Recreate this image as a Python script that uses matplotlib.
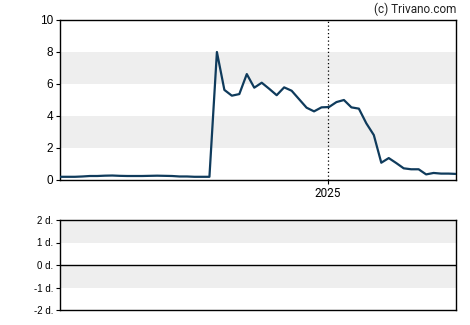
import matplotlib
matplotlib.use('Agg')
import numpy as np
import pandas as pd
from matplotlib import pyplot as plt
import matplotlib.dates as mdates

# weekly values
start = '2024-04-25'
values = [0.20, 0.20, 0.20, 0.22, 0.25, 0.25, 0.27, 0.28, 0.26, 0.25,
          0.25, 0.25, 0.26, 0.27, 0.26, 0.25, 0.22, 0.22, 0.20, 0.20,
          0.20, 8.00, 5.63, 5.27, 5.37, 6.62, 5.77, 6.08, 5.70, 5.30,
          5.79, 5.58, 5.05, 4.52, 4.29, 4.54, 4.56, 4.87, 5.00, 4.54,
          4.46, 3.54, 2.81, 1.08, 1.37, 1.06, 0.73, 0.67, 0.67, 0.35,
          0.44, 0.40, 0.40, 0.38]
dates = pd.date_range(start, periods=len(values), freq='7D')

y_ticks = [0, 2, 4, 6, 8, 10]
bands_top = [(2, 4), (6, 8)]
low_ticks = [-2, -1, 0, 1, 2]
low_labels = ['-2 d.', '-1 d.', '0 d.', '1 d.', '2 d.']
bands_low = [(1, 2), (-1, 0)]
year_mark = pd.Timestamp('2025-01-01')

W, H = 470, 325
fig = plt.figure(figsize=(W / 100, H / 100), dpi=100)
ax = fig.add_axes([60 / W, (H - 180) / H, 396 / W, 160 / H])
ax2 = fig.add_axes([60 / W, (H - 310) / H, 396 / W, 90 / H])

line_col = '#0f3b5c'
band_col = '#eeeeee'

for lo, hi in bands_top:
    ax.axhspan(lo, hi, color=band_col, lw=0, zorder=0)
ax.plot(dates, values, color=line_col, lw=1.6, zorder=3)
ax.axvline(year_mark, color='black', lw=0.9, ls=(0, (1, 2)), zorder=2)
ax.set_xlim(dates[0], dates[-1])
ax.set_ylim(0, 10)
ax.set_yticks(y_ticks)
ax.set_yticklabels([str(t) for t in y_ticks], family='Liberation Sans', fontsize=8.5)
ax.set_xticks([year_mark])
ax.set_xticklabels(['2025'], family='Roboto', fontsize=8.5)
ax.tick_params(length=3, width=0.8, pad=2)

for lo, hi in bands_low:
    ax2.axhspan(lo, hi, color=band_col, lw=0, zorder=0)
ax2.axhline(0, color='black', lw=1.0)
ax2.set_ylim(-2, 2)
ax2.set_xlim(0, 1)
ax2.set_yticks(low_ticks)
ax2.set_yticklabels(low_labels, family='Liberation Sans', fontsize=7)
ax2.set_xticks([])
ax2.tick_params(length=3, width=0.8, pad=2)

for a in (ax, ax2):
    for s in a.spines.values():
        s.set_linewidth(1.0)
        s.set_color('black')

fig.text(456 / W, 1 - 9 / H, '(c) Trivano.com', ha='right', va='center',
         family='Roboto', fontsize=8.5, color='#222222')

fig.savefig('out.png', dpi=100)
